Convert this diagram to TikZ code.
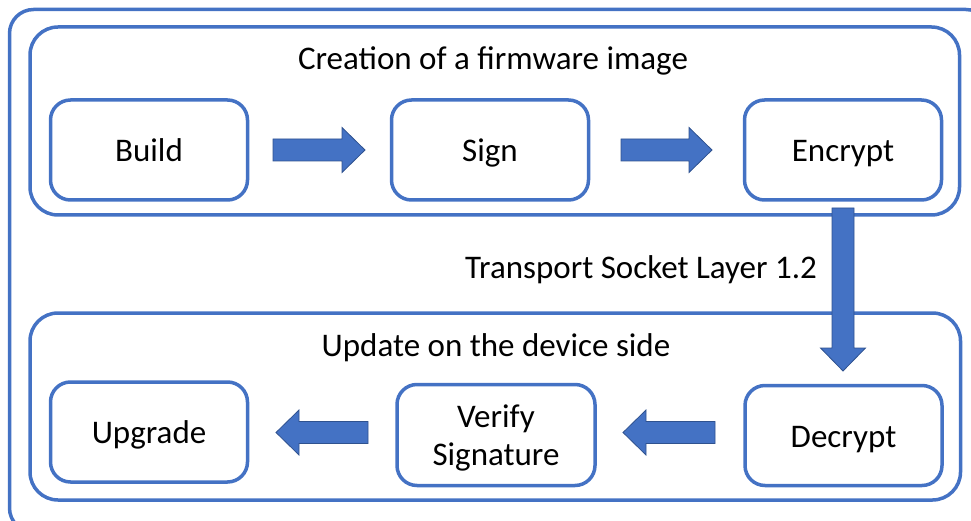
\documentclass[tikz,border=0pt]{standalone}
\usepackage{fontspec}
\setmainfont{Carlito}
\usetikzlibrary{calc}

\definecolor{officeblue}{HTML}{4472C4}
\definecolor{arrowedge}{HTML}{2F528F}

\tikzset{
  frame/.style={draw=officeblue, line width=3.5pt},
  stepbox/.style={draw=officeblue, line width=3.5pt, rounded corners=20pt,
    minimum width=197pt, minimum height=100pt, inner sep=0pt, outer sep=0pt,
    font=\fontsize{33}{38}\selectfont, text height=23pt, text depth=0pt},
  caption/.style={inner sep=0pt, font=\fontsize{33}{38}\selectfont},
  arrowbody/.style={fill=officeblue, draw=arrowedge, line width=0.8pt, line join=miter},
  % block arrow along +x, length #1, shaft 22pt, head 45pt wide and 23pt long
  pics/blockarrow/.style={code={
    \draw[arrowbody] (0,-11) -- ({#1-23},-11) -- ({#1-23},-22.5) -- (#1,0)
      -- ({#1-23},22.5) -- ({#1-23},11) -- (0,11) -- cycle;
  }},
}

\begin{document}
\begin{tikzpicture}[x=1pt, y=-1pt]
  \useasboundingbox (0,0) rectangle (971,521);

  % outer frame and the two groups
  \draw[frame, rounded corners=24pt] (9.5,9.5) rectangle (990,532);
  \draw[frame, rounded corners=28pt] (30,27) rectangle (959.5,215);
  \draw[frame, rounded corners=28pt] (30,313) rectangle (960.5,500);

  % group titles
  \node[caption, anchor=base] (titleA) at (493,70) {Creation of a firmware image};
  \node[caption, anchor=base east] (transport) at (817,278) {Transport Socket Layer 1.2};
  \node[caption, anchor=base] (titleB) at (496,356) {Update on the device side};

  % steps
  \node[stepbox] (build)   at (149,150)   {Build};
  \node[stepbox] (sign)    at (490,150)   {Sign};
  \node[stepbox] (encrypt) at (843,150)   {Encrypt};
  \node[stepbox] (upgrade) at (149,432)   {Upgrade};
  \node[stepbox, minimum width=198pt, minimum height=101pt] (verify) at (496,435) {};
  \node[caption, align=center] (verifytext) at ($(verify.center)+(0,3)$) {Verify\\Signature};
  \node[stepbox] (decrypt) at (843.5,435.5) {Decrypt};

  % block arrows between the steps
  \coordinate (a1) at ($(build.east)+(25.5,0)$);
  \coordinate (a2) at ($(sign.east)+(32.5,0)$);
  \coordinate (a3) at ($(encrypt.south)+(0,8)$);
  \coordinate (a4) at ($(decrypt.west)+(-30,-3)$);
  \coordinate (a5) at ($(verify.west)+(-29,-2.5)$);

  \pic at (a1) {blockarrow=92};
  \pic at (a2) {blockarrow=91};
  \pic[rotate=-90] at (a3) {blockarrow=163};
  \pic[rotate=180] at (a4) {blockarrow=92};
  \pic[rotate=180] at (a5) {blockarrow=92};
\end{tikzpicture}
\end{document}
